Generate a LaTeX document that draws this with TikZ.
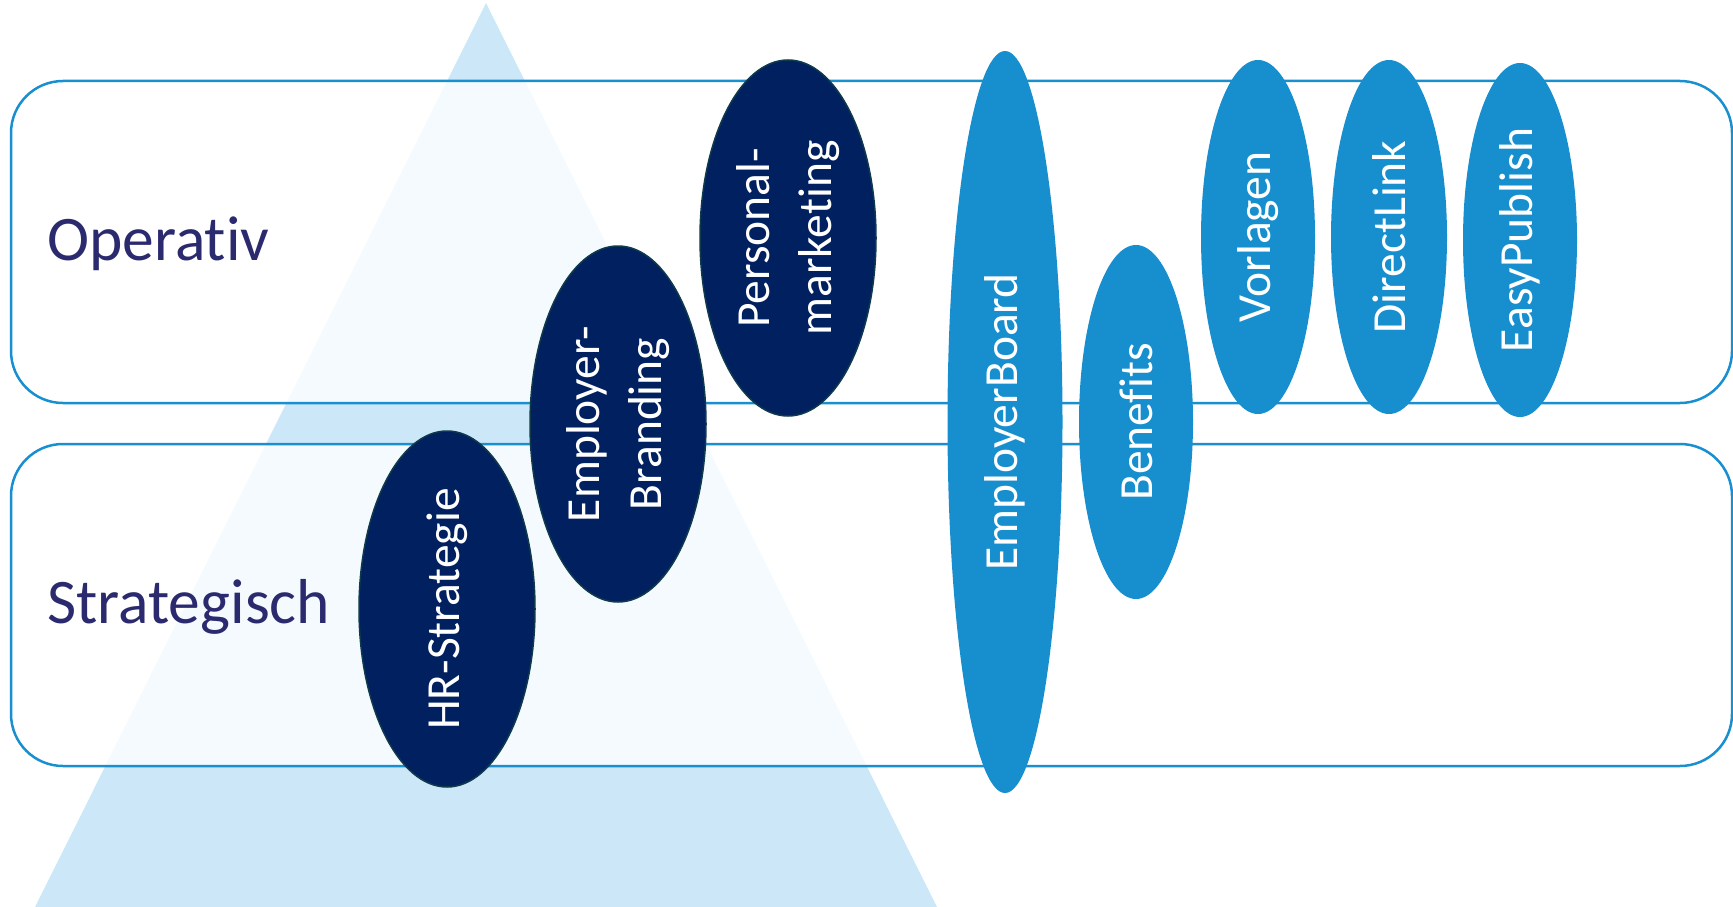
\documentclass[tikz,border=0pt]{standalone}
\usepackage{fontspec}
\setmainfont{Carlito}[Ligatures={CommonOff,ContextualOff}]
\usetikzlibrary{shapes.geometric}
\definecolor{tri}{HTML}{CCE8F8}
\definecolor{boxline}{HTML}{1A8FD0}
\definecolor{navy}{HTML}{002060}
\definecolor{navyedge}{HTML}{0F3A4C}
\definecolor{lblue}{HTML}{178FCE}
\definecolor{lvl}{HTML}{2B2A6E}
\tikzset{
  levelbox/.style={draw=boxline, line width=2.5pt, rounded corners=52pt, fill=white, fill opacity=0.8},
  levellabel/.style={anchor=base west, text=lvl, font=\fontsize{63.5}{76}\selectfont, inner sep=0pt},
  darkell/.style={ellipse, fill=navy, draw=navyedge, line width=1.5pt, inner sep=0pt},
  lightell/.style={ellipse, fill=lblue, draw=none, inner sep=0pt},
  elltext/.style={rotate=90, text=white, align=center, font=\fontsize{47.5}{62}\selectfont, inner sep=0pt}
}
\begin{document}
\begin{tikzpicture}[x=1pt, y=-1pt]
\useasboundingbox (0,0) rectangle (1733,907);
% pyramid
\fill[tri] (486,3) -- (35,907) -- (937,907) -- cycle;
% level boxes
\draw[levelbox] (11,81) rectangle (1732,403);
\draw[levelbox] (11,444) rectangle (1732,766);
\node[levellabel] (op) at (47,260) {Operat\kern0pt iv};
\node[levellabel] (st) at (47,623) {Strategisch};
% dark ellipses
\node[darkell, minimum width=176pt, minimum height=356pt] (hr) at (447,609) {};
\node[elltext] (hrt) at (hr.center) {HR-Strategie};
\node[darkell, minimum width=176pt, minimum height=356pt] (eb) at (618,424) {};
\node[elltext] (ebt) at (eb.center) {Employer-\\Branding};
\node[darkell, minimum width=176pt, minimum height=356pt] (pm) at (788,238) {};
\node[elltext] (pmt) at (pm.center) {Personal-\\marketing};
% light ellipses
\node[lightell, minimum width=115pt, minimum height=742pt] (ebd) at (1005,422) {};
\node[elltext] (ebdt) at (ebd.center) {EmployerBoard};
\node[lightell, minimum width=114pt, minimum height=354pt] (ben) at (1136,422) {};
\node[elltext] (bent) at (ben.center) {Benef\kern0pt its};
\node[lightell, minimum width=114pt, minimum height=354pt] (vor) at (1258,237) {};
\node[elltext] (vort) at (vor.center) {Vorlagen};
\node[lightell, minimum width=116pt, minimum height=354pt] (dl) at (1389,237) {};
\node[elltext] (dlt) at (dl.center) {DirectLink};
\node[lightell, minimum width=114pt, minimum height=354pt] (ep) at (1520,240) {};
\node[elltext] (ept) at (ep.center) {EasyPublish};
\end{tikzpicture}
\end{document}
